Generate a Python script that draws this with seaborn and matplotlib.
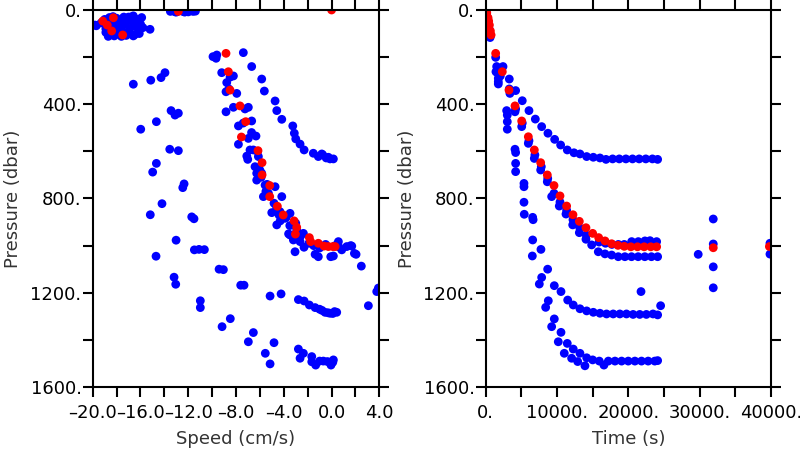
import pandas as pd
import seaborn as sns
import matplotlib.pyplot as plt

# ---- data (speed / time vs pressure) ----
# left panel: (speed cm/s, pressure dbar)
left_top = [(-19.8, 64), (-19.7, 67), (-19.3, 55), (-19.0, 40), (-18.9, 80), (-18.6, 32),
            (-18.5, 100), (-18.3, 28), (-18.2, 110), (-18.0, 35), (-17.9, 70), (-17.8, 45),
            (-17.6, 112), (-17.5, 90), (-17.4, 30), (-17.3, 60), (-17.2, 108), (-17.1, 38),
            (-17.0, 100), (-16.9, 80), (-16.8, 30), (-16.7, 50), (-16.6, 25), (-16.5, 105),
            (-16.4, 70), (-16.3, 40), (-16.2, 95), (-16.0, 60), (-15.9, 32), (-15.8, 75),
            (-18.7, 112), (-18.1, 85), (-17.7, 105), (-17.0, 30), (-16.6, 110), (-15.2, 82),
            (-18.4, 58), (-17.3, 48), (-16.1, 100), (-18.9, 95)]
left_surface = [(-13.5, 6), (-13.3, 3), (-13.1, 8), (-12.9, 5), (-12.6, 3), (-12.4, 7),
                (-12.2, 4), (-12.0, 8), (-11.8, 3), (-11.6, 6), (-11.4, 5), (-13.0, 9), (-12.3, 9)]
left_a = [(-7.39, 181), (-6.69, 240), (-5.85, 293), (-5.63, 344), (-4.73, 386), (-4.59, 427),
          (-4.17, 464), (-3.25, 492), (-3.12, 523), (-3.0, 547), (-2.64, 569), (-2.3, 594),
          (-1.53, 608), (-1.11, 622), (-0.74, 615), (-0.82, 611), (-0.27, 625), (-0.13, 632),
          (0.15, 632), (-0.45, 628)]
left_band = [(-9.93, 198), (-9.61, 191), (-9.67, 205), (-9.2, 266), (-8.22, 280), (-8.5, 285),
             (-8.78, 308), (-8.84, 347), (-7.94, 354), (-8.6, 335), (-8.84, 432), (-8.22, 413),
             (-7.25, 420), (-6.97, 413), (-7.8, 492), (-7.4, 480), (-6.69, 471), (-6.97, 545),
             (-6.33, 535), (-6.7, 520), (-7.8, 570), (-6.55, 594), (-6.83, 594), (-7.1, 620),
             (-6.13, 622), (-7.02, 634), (-6.2, 600), (-6.41, 665), (-6.27, 693), (-6.0, 680),
             (-5.85, 693), (-6.27, 722), (-5.9, 710), (-5.57, 743), (-5.4, 740), (-5.29, 778),
             (-5.5, 770), (-4.73, 750), (-5.71, 792), (-4.17, 792), (-4.82, 820), (-4.6, 840),
             (-5.01, 860), (-4.32, 856), (-3.9, 884), (-3.48, 863), (-4.4, 870), (-3.8, 880),
             (-4.59, 912), (-4.3, 895), (-3.5, 915), (-3.0, 905), (-2.92, 934), (-2.36, 948),
             (-3.48, 955), (-3.6, 950), (-2.6, 960), (-3.2, 976), (-2.64, 983), (-1.9, 990),
             (-2.31, 1007), (-1.5, 1000), (-3.06, 1026), (-1.38, 1037), (-1.0, 1010),
             (-0.5, 995), (-1.11, 1047), (-0.07, 1047), (0.15, 1044), (0.3, 1000), (0.57, 983),
             (0.6, 1005), (0.85, 1018), (1.27, 1004), (1.69, 1002), (1.91, 1033), (2.49, 1087),
             (1.6, 1000), (2.05, 1037)]
left_deep = [(-16.6, 315), (-15.14, 298), (-14.28, 287), (-13.95, 266), (-13.44, 427),
             (-13.11, 446), (-12.83, 438), (-14.67, 474), (-15.98, 506), (-13.55, 591),
             (-12.83, 597), (-14.67, 651), (-14.98, 688), (-12.35, 738), (-12.46, 754),
             (-14.2, 822), (-15.18, 869), (-11.71, 878), (-11.52, 886), (-13.02, 977),
             (-14.7, 1045), (-11.49, 1018), (-11.1, 1016), (-10.65, 1017), (-13.19, 1134),
             (-13.05, 1164), (-9.42, 1100), (-9.06, 1102), (-10.99, 1234), (-10.99, 1263),
             (-7.61, 1168), (-7.33, 1168), (-8.48, 1310), (-9.17, 1344), (-6.55, 1369),
             (-6.97, 1408), (-5.55, 1457), (-5.15, 1502), (-5.15, 1214), (-4.23, 1205),
             (-4.82, 1412)]
left_flat = [(-2.78, 1229), (-2.3, 1235), (-1.86, 1252), (-1.38, 1263), (-1.0, 1270),
             (-0.8, 1275), (-0.55, 1283), (-0.3, 1285), (-0.13, 1287), (0.1, 1288), (0.43, 1283),
             (0.25, 1280), (-2.78, 1439), (-2.64, 1478), (-2.36, 1457), (-1.66, 1471),
             (-1.66, 1493), (-1.33, 1507), (-1.0, 1490), (-0.69, 1490), (-0.35, 1492),
             (-0.05, 1507), (0.15, 1485), (0.1, 1495)]
left_outliers = [(3.92, 1180), (3.78, 1195), (3.08, 1255)]
left_red = [(-12.83, 6), (0.0, 0), (-19.16, 47), (-18.78, 64), (-18.41, 89), (-18.27, 33),
            (-17.49, 106), (-8.84, 184), (-8.64, 262), (-8.5, 340), (-7.67, 407), (-7.19, 474),
            (-7.55, 539), (-6.16, 597), (-5.82, 648), (-5.82, 700), (-5.18, 745), (-5.18, 792),
            (-4.54, 833), (-4.05, 870), (-3.14, 895), (-2.92, 922), (-3.03, 951), (-1.86, 966),
            (-1.75, 983), (-1.11, 990), (-0.63, 1002), (-0.27, 1004), (0.1, 1004), (0.3, 1004)]

# right panel: (time s, pressure dbar)
right_top = [(50, 4), (110, 15), (170, 27), (240, 40), (300, 52), (370, 64), (440, 77),
             (500, 88), (560, 100), (620, 117), (660, 108)]
right_a = [(2430, 240), (3310, 293), (4200, 342), (5130, 385), (6070, 427), (6960, 463),
           (7850, 495), (8730, 523), (9670, 549), (10510, 573), (11440, 594), (12380, 606),
           (13220, 611), (14160, 622), (15090, 625), (16020, 628), (16870, 634), (17800, 632),
           (18730, 632), (19660, 632), (20590, 632), (21520, 632), (22450, 632), (23380, 632),
           (24110, 634)]
right_band = [(1400, 201), (1540, 240), (1440, 262), (1630, 266), (1770, 290), (1770, 304),
              (1770, 314), (2050, 280), (3400, 354), (3310, 335), (4110, 432), (4200, 420),
              (5050, 495), (5130, 480), (5980, 566), (6070, 555), (6820, 630), (6900, 615),
              (7710, 679), (7800, 665), (8640, 729), (8700, 715), (9580, 778), (9250, 792),
              (10320, 832), (10420, 815), (11260, 866), (11350, 850), (12200, 912),
              (12240, 890), (13130, 945), (13200, 925), (14060, 973), (14100, 955),
              (14860, 997), (15790, 1026), (16730, 1035), (17660, 1040), (18590, 1047),
              (19520, 1047), (20450, 1047), (21380, 1047), (22310, 1047), (23240, 1047),
              (24110, 1047), (19430, 995), (20470, 983), (21400, 983), (22330, 980),
              (23040, 979), (23970, 983), (16800, 990), (17700, 995), (18600, 995), (15900, 985)]
right_deep = [(2940, 427), (3030, 446), (3030, 474), (3030, 506), (4110, 591), (4200, 605),
              (4200, 651), (4200, 686), (5370, 736), (5370, 750), (5370, 816), (5410, 867),
              (6590, 880), (6650, 890), (6590, 976), (6540, 1044), (7750, 1016), (7850, 1135),
              (7520, 1163), (8690, 1100), (8410, 1262), (8780, 1234), (9620, 1170),
              (9250, 1344), (9620, 1311), (10560, 1195), (10180, 1408), (10560, 1368),
              (11500, 1231), (11020, 1457), (11440, 1415), (12280, 1252), (12050, 1478),
              (12280, 1439), (13220, 1268), (12900, 1492), (13220, 1457), (13920, 1510),
              (14160, 1476), (14160, 1277), (15000, 1485), (15090, 1283), (15930, 1490),
              (16020, 1287), (16580, 1507), (16950, 1290), (17200, 1490), (17880, 1290),
              (18130, 1490), (18810, 1290), (19060, 1490), (19740, 1290), (19990, 1490),
              (20670, 1292), (20920, 1490), (21600, 1292), (21850, 1490), (22530, 1292),
              (22780, 1490), (23460, 1290), (23710, 1490), (24110, 1294), (24110, 1488),
              (24530, 1255), (21780, 1195)]
right_outliers = [(29800, 1037), (31910, 993), (31910, 1090), (31910, 1179), (31910, 887),
                  (39860, 990), (39860, 1036)]
right_red = [(60, 0), (150, 12), (330, 33), (420, 47), (520, 64), (660, 89), (760, 106),
             (1400, 184), (2330, 262), (3270, 340), (4110, 407), (5050, 471), (5980, 538),
             (6820, 594), (7710, 648), (8640, 700), (9580, 745), (10420, 789), (11350, 832),
             (12240, 869), (13130, 897), (14060, 924), (15000, 948), (15840, 966), (16730, 980),
             (17660, 992), (18550, 999), (19430, 1003), (20360, 1005), (21290, 1005),
             (22220, 1005), (23150, 1005), (23970, 1005), (31910, 1009), (39780, 1004)]

pres_ticks = [0, 200, 400, 600, 800, 1000, 1200, 1400, 1600]
pres_labels = ['0.', '', '400.', '', '800.', '', '1200.', '', '1600.']
speed_ticks = [-20, -18, -16, -14, -12, -10, -8, -6, -4, -2, 0, 2, 4]
speed_labels = ['\u201320.0', '', '\u201316.0', '', '\u201312.0', '', '\u20138.0', '',
                '\u20134.0', '', '0.0', '', '4.0']
time_ticks = [0, 5000, 10000, 15000, 20000, 25000, 30000, 35000, 40000]
time_labels = ['0.', '', '10000.', '', '20000.', '', '30000.', '', '40000.']


def to_frame(blue_groups, red, xname):
    rows = []
    for grp in blue_groups:
        rows += [(x, p, 'blue') for x, p in grp]
    rows += [(x, p, 'red') for x, p in red]
    return pd.DataFrame(rows, columns=[xname, 'pressure', 'kind'])


left_df = to_frame([left_top, left_surface, left_a, left_band, left_deep, left_flat, left_outliers],
                   left_red, 'speed')
right_df = to_frame([right_top, right_a, right_band, right_deep, right_outliers], right_red, 'time')

fig = plt.figure(figsize=(8, 4.5), dpi=100)
ax1 = fig.add_axes([0.1159, 0.14, 0.3583, 0.8378])
ax2 = fig.add_axes([0.6071, 0.14, 0.3566, 0.8378])
colors = {'blue': '#0000ff', 'red': '#ff0000'}

panels = [(ax1, left_df, 'speed', (-20, 4), speed_ticks, speed_labels, 'Speed (cm/s)'),
          (ax2, right_df, 'time', (0, 40000), time_ticks, time_labels, 'Time (s)')]
for ax, df, xcol, xlim, xt, xl, xlabel in panels:
    sns.scatterplot(data=df, x=xcol, y='pressure', hue='kind', palette=colors,
                    s=40, linewidth=0, legend=False, ax=ax)
    ax.set_xlim(*xlim)
    ax.set_ylim(1600, 0)
    ax.set_xticks(xt)
    ax.set_xticklabels(xl)
    ax.set_yticks(pres_ticks)
    ax.set_yticklabels(pres_labels)
    ax.tick_params(direction='out', length=7, width=1.5, top=True, right=True,
                   labelsize=13, colors='black')
    ax.tick_params(axis='x', pad=5)
    ax.tick_params(axis='y', pad=1)
    for sp in ax.spines.values():
        sp.set_linewidth(1.5)
    ax.set_xlabel(xlabel, fontsize=13, color='#333333')
    ax.set_ylabel('Pressure (dbar)', fontsize=13, color='#333333')
    ax.xaxis.set_label_coords(0.5, -0.115)
    ax.yaxis.set_label_coords(-0.245, 0.5)

fig.savefig('out.png', dpi=100)
